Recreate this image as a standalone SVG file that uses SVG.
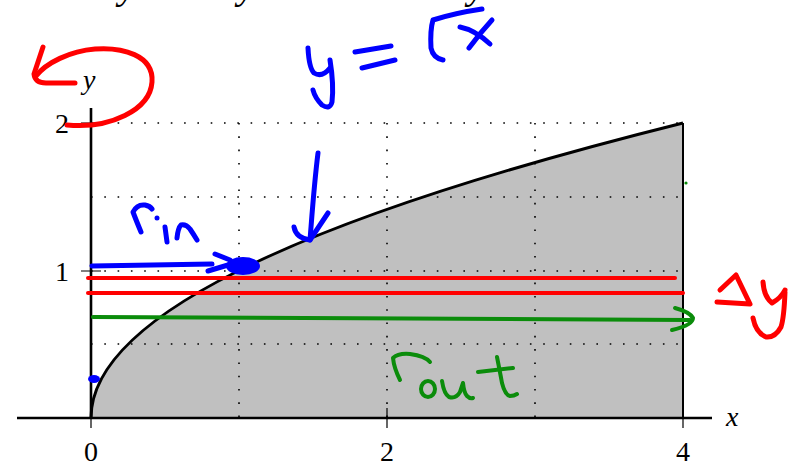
<svg xmlns="http://www.w3.org/2000/svg" width="804" height="462" viewBox="0 0 804 462">
<style>
.grid{stroke:#000;stroke-width:1.6;stroke-dasharray:1.6 11.7;fill:none}
.lbl{font-family:"Liberation Serif","DejaVu Serif",serif;font-size:28px;fill:#000}
.it{font-style:italic}
.blue{stroke:#0000ff;stroke-width:5;fill:none;stroke-linecap:round;stroke-linejoin:round}
.red{stroke:#ff0000;stroke-width:5;fill:none;stroke-linecap:round;stroke-linejoin:round}
.green{stroke:#0b8c0b;stroke-width:4;fill:none;stroke-linecap:round;stroke-linejoin:round}
.tick{stroke:#000;stroke-width:1.2}
</style>
<rect width="804" height="462" fill="#fff"/>
<g id="cutoff-text">
<text class="lbl it" x="119" y="-2" style="font-size:40px">y</text>
<text class="lbl it" x="238" y="-2" style="font-size:40px">y</text>
<text class="lbl it" x="468" y="-2" style="font-size:40px">y</text>
</g>
<g id="plot">
<path d="M91,418 Q91,270.5 683,123 L683,418 Z" fill="#c0c0c0"/>
<g id="grid">
<path class="grid" d="M239,123V418 M387,123V418 M535,123V418 M683,123V418"/>
<path class="grid" d="M91,123H683 M91,197H683 M91,271H683 M91,344H683"/>
</g>
<path d="M91,418 Q91,270.5 683,123" fill="none" stroke="#000" stroke-width="3"/>
<line x1="683" y1="123" x2="683" y2="418" stroke="#000" stroke-width="2"/>
<g id="axes">
<line x1="17" y1="418" x2="712" y2="418" stroke="#000" stroke-width="2.6"/>
<line x1="91" y1="108" x2="91" y2="418" stroke="#000" stroke-width="2.6"/>
<path class="tick" d="M91,418V428 M387,408V428 M683,408V428 M81,271H101 M81,123H101"/>
</g>
<g id="labels">
<text class="lbl" x="91" y="461" text-anchor="middle">0</text>
<text class="lbl" x="387" y="461" text-anchor="middle">2</text>
<text class="lbl" x="683" y="461" text-anchor="middle">4</text>
<text class="lbl" x="69" y="281" text-anchor="end">1</text>
<text class="lbl" x="69" y="133" text-anchor="end">2</text>
<text class="lbl it" x="83" y="89">y</text>
<text class="lbl it" x="726" y="426">x</text>
</g>
</g>
<g id="connectors">
<path class="red" d="M67,125 C110,129 150,110 152,82 C154,55 122,47 95,49 C70,51 46,63 36,76"/>
<path class="red" d="M43,47 L34,74 Q35,83 46,83 L75,83"/>
<path class="blue" d="M318,153 C314,185 312,215 310,240"/>
<path class="blue" d="M294,227 Q296,238 310,240 L328,213"/>
<path class="blue" d="M92,266 L212,264"/>
<path class="blue" d="M215,254 L230,260 M208,271 L228,265"/>
<ellipse cx="243" cy="266" rx="16" ry="8" fill="#0000ff" stroke="#0000ff" stroke-width="2"/>
<ellipse cx="94" cy="379" rx="6" ry="4" fill="#0000ff"/>
<line class="red" x1="88" y1="278" x2="675" y2="278" style="stroke-width:4"/>
<line class="red" x1="88" y1="293" x2="683" y2="293" style="stroke-width:4"/>
<path class="green" d="M93,317 L690,320"/>
<path class="green" d="M675,308 Q690,312 693,318 Q693,325 672,330"/>
<circle cx="686" cy="183" r="1.6" fill="#0b8c0b"/>
</g>
<g id="handwriting">
<g id="eq">
<path class="blue" d="M308,48 Q309,68 314,73 Q322,78 330,68"/>
<path class="blue" d="M330,60 Q334,85 332,102 Q330,110 322,105 Q315,98 313,90"/>
<path class="blue" d="M355,52 L391,46"/>
<path class="blue" d="M362,68 L395,60"/>
<path class="blue" d="M482,9 Q455,13 433,20 Q430,30 431,48 Q433,58 443,60"/>
<path class="blue" d="M460,27 Q475,30 490,44"/>
<path class="blue" d="M492,20 Q480,33 469,48"/>
</g>
<g id="rin">
<path class="blue" d="M141,232 Q136,220 133,212 Q137,204 145,205 Q150,206 152,209"/>
<circle cx="157" cy="218" r="2.5" fill="#0000ff"/>
<path class="blue" d="M165,227 L167,242"/>
<path class="blue" d="M177,238 Q178,228 181,225 Q186,224 190,229 Q194,235 197,240"/>
</g>
<g id="dy">
<path class="red" d="M720,290 L736,275 L750,304 L717,302"/>
<path class="red" d="M763,282 Q764,297 772,303 Q781,298 785,290"/>
<path class="red" d="M785,292 Q784,318 781,327 Q775,338 766,337 Q756,333 753,318"/>
</g>
<g id="rout">
<path class="green" d="M400,380 Q394,368 393,358 Q398,353 410,354 Q425,356 430,362"/>
<ellipse class="green" cx="428" cy="389" rx="7" ry="8"/>
<path class="green" d="M442,381 Q444,394 449,397 Q456,399 460,392 Q462,386 463,383 Q464,393 467,396 Q470,399 473,398"/>
<path class="green" d="M497,357 Q500,372 502,383 Q505,395 510,396 Q514,396 517,394"/>
<path class="green" d="M478,372 L513,368"/>
</g>
</g>
</svg>
